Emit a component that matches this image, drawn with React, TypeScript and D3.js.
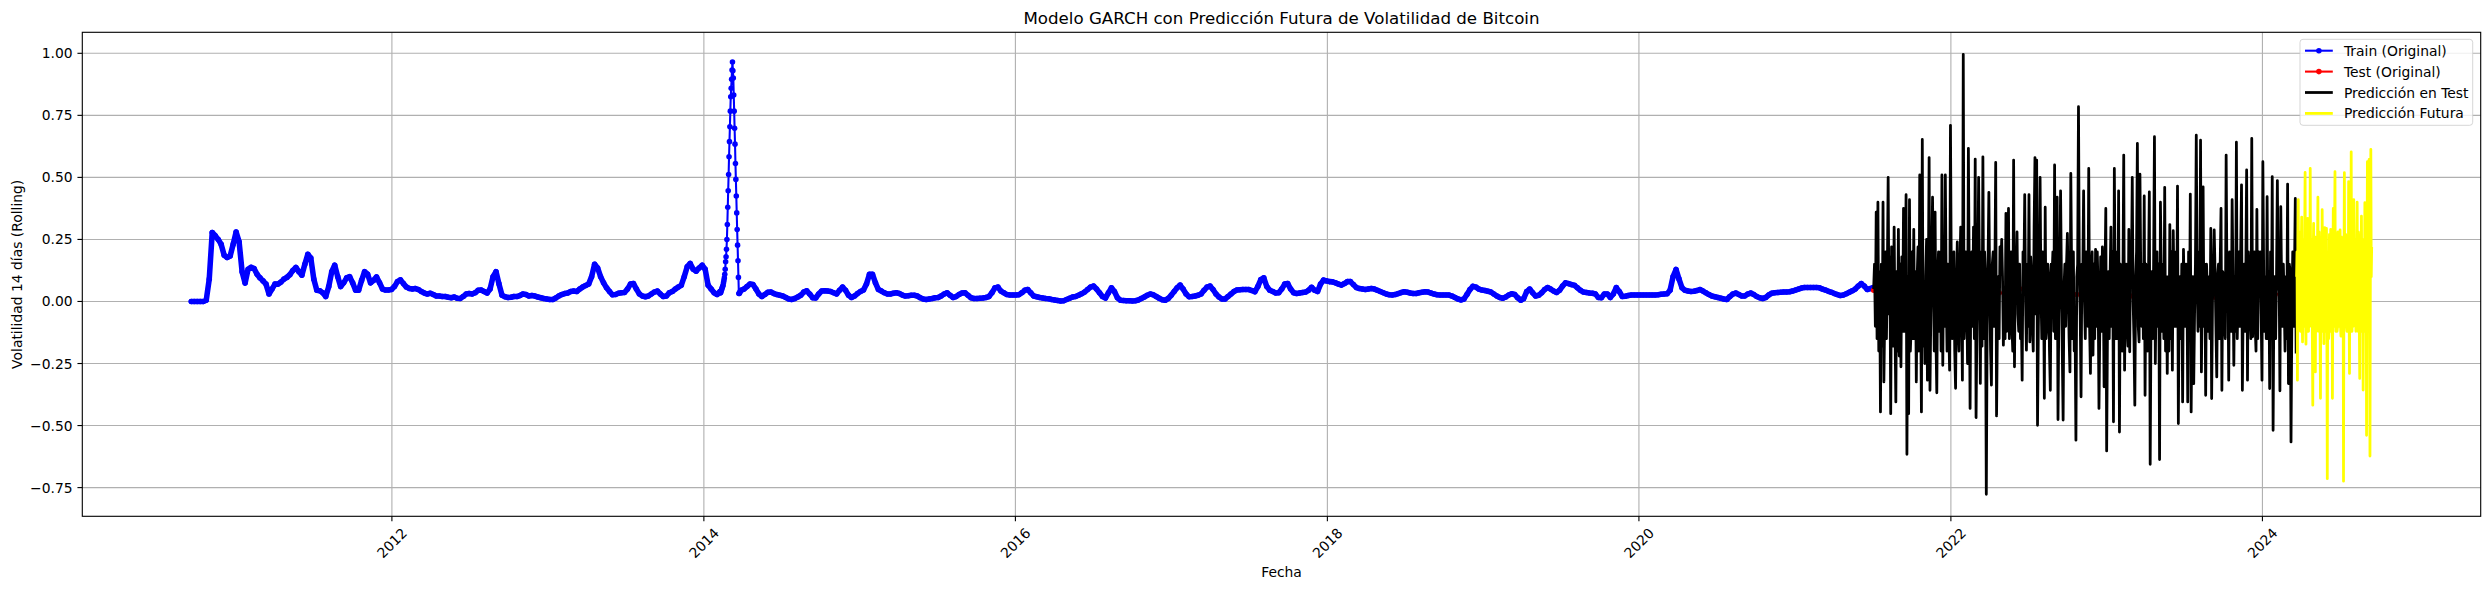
import React, { useEffect } from 'react';
import * as d3 from 'd3';

// ---------------- DATA ----------------
// Train (Original): weekly values, then a daily stretch around the 2014 spike, then weekly again
const trainAStart = '2010-09-18'; // step 7 days
const trainA = [
  0, 0, 0, 0, 0, 0.005, 0.09, 0.278, 0.265, 0.25,
  0.23, 0.186, 0.177, 0.183, 0.23, 0.28, 0.24, 0.12, 0.074, 0.13,
  0.138, 0.133, 0.11, 0.095, 0.083, 0.07, 0.03, 0.05, 0.07, 0.07,
  0.078, 0.09, 0.097, 0.108, 0.125, 0.137, 0.12, 0.106, 0.15, 0.19,
  0.175, 0.09, 0.045, 0.043, 0.035, 0.02, 0.06, 0.12, 0.146, 0.1,
  0.06, 0.075, 0.095, 0.1, 0.075, 0.045, 0.045, 0.085, 0.12, 0.11,
  0.075, 0.085, 0.099, 0.075, 0.05, 0.046, 0.046, 0.048, 0.06, 0.08,
  0.087, 0.072, 0.058, 0.052, 0.05, 0.052, 0.048, 0.04, 0.034, 0.03,
  0.033, 0.028, 0.022, 0.022, 0.02, 0.02, 0.017, 0.015, 0.018, 0.013,
  0.012, 0.02, 0.03, 0.032, 0.03, 0.035, 0.045, 0.046, 0.04, 0.034,
  0.05, 0.1, 0.12, 0.07, 0.025, 0.019, 0.016, 0.017, 0.02, 0.02,
  0.024, 0.03, 0.028, 0.022, 0.024, 0.022, 0.018, 0.015, 0.012, 0.01,
  0.008, 0.008, 0.014, 0.022, 0.028, 0.032, 0.034, 0.04, 0.042, 0.04,
  0.05, 0.058, 0.064, 0.07, 0.1, 0.15, 0.135, 0.1, 0.075, 0.055,
  0.04, 0.027, 0.028, 0.033, 0.035, 0.036, 0.05, 0.07, 0.072, 0.05,
  0.03, 0.022, 0.019, 0.022, 0.03, 0.038, 0.042, 0.03, 0.02, 0.022,
  0.035, 0.04, 0.05, 0.058, 0.065, 0.1, 0.14, 0.153, 0.13, 0.122,
  0.135, 0.146, 0.13, 0.065, 0.05, 0.035, 0.028, 0.04,
];
const trainSpikeStart = '2014-02-09'; // step 1 day
const trainSpike = [
  0.035, 0.04, 0.045, 0.05, 0.055, 0.06, 0.065, 0.075, 0.085, 0.095,
  0.11, 0.13, 0.16, 0.18, 0.21, 0.25, 0.31, 0.38, 0.446, 0.512,
  0.583, 0.644, 0.704, 0.767, 0.825, 0.859, 0.895, 0.933, 0.965, 0.93,
  0.9, 0.832, 0.767, 0.698, 0.634, 0.556, 0.492, 0.425, 0.357, 0.29,
  0.227, 0.164, 0.097, 0.032, 0.032, 0.035, 0.04, 0.042, 0.045,
];
const trainBStart = '2014-04-05'; // step 7 days
const trainB = [
  0.05, 0.06, 0.07, 0.068, 0.05, 0.03, 0.02, 0.028, 0.037, 0.038,
  0.032, 0.028, 0.025, 0.022, 0.016, 0.01, 0.008, 0.012, 0.018, 0.025,
  0.038, 0.043, 0.03, 0.015, 0.014, 0.03, 0.042, 0.043, 0.042, 0.04,
  0.035, 0.03, 0.045, 0.058, 0.045, 0.025, 0.016, 0.022, 0.032, 0.04,
  0.046, 0.07, 0.11, 0.11, 0.075, 0.048, 0.042, 0.035, 0.03, 0.03,
  0.033, 0.035, 0.032, 0.026, 0.022, 0.023, 0.025, 0.025, 0.022, 0.015,
  0.01, 0.008, 0.01, 0.012, 0.015, 0.016, 0.022, 0.03, 0.035, 0.025,
  0.016, 0.02, 0.028, 0.034, 0.035, 0.025, 0.015, 0.012, 0.012, 0.013,
  0.014, 0.016, 0.02, 0.035, 0.055, 0.058, 0.042, 0.035, 0.028, 0.026,
  0.026, 0.026, 0.027, 0.035, 0.045, 0.048, 0.035, 0.022, 0.019, 0.016,
  0.014, 0.012, 0.011, 0.008, 0.006, 0.004, 0.002, 0.003, 0.008, 0.013,
  0.018, 0.02, 0.025, 0.031, 0.038, 0.048, 0.058, 0.062, 0.05, 0.035,
  0.02, 0.014, 0.035, 0.055, 0.04, 0.015, 0.005, 0.004, 0.003, 0.003,
  0.002, 0.003, 0.006, 0.012, 0.018, 0.025, 0.03, 0.027, 0.02, 0.013,
  0.007, 0.005, 0.012, 0.025, 0.04, 0.055, 0.066, 0.05, 0.03, 0.019,
  0.02, 0.022, 0.025, 0.03, 0.045, 0.058, 0.062, 0.048, 0.03, 0.018,
  0.01, 0.01, 0.02, 0.03, 0.04, 0.046, 0.047, 0.048, 0.048, 0.048,
  0.044, 0.039, 0.06, 0.088, 0.095, 0.06, 0.045, 0.04, 0.034, 0.035,
  0.05, 0.07, 0.072, 0.05, 0.035, 0.032, 0.034, 0.036, 0.038, 0.045,
  0.057, 0.045, 0.04, 0.07, 0.086, 0.083, 0.08, 0.079, 0.075, 0.07,
  0.066, 0.072, 0.08, 0.08, 0.068, 0.056, 0.052, 0.05, 0.048, 0.05,
  0.052, 0.05, 0.045, 0.04, 0.035, 0.03, 0.027, 0.026, 0.028, 0.032,
  0.036, 0.039, 0.037, 0.034, 0.032, 0.032, 0.035, 0.037, 0.039, 0.038,
  0.034, 0.03, 0.027, 0.026, 0.026, 0.026, 0.026, 0.022, 0.016, 0.01,
  0.006, 0.01, 0.028, 0.048, 0.061, 0.058, 0.05, 0.046, 0.044, 0.041,
  0.038, 0.03, 0.022, 0.016, 0.013, 0.018, 0.026, 0.031, 0.028, 0.015,
  0.005, 0.012, 0.04, 0.05, 0.035, 0.022, 0.025, 0.035, 0.048, 0.056,
  0.05, 0.042, 0.036, 0.045, 0.062, 0.075, 0.072, 0.068, 0.065, 0.055,
  0.045, 0.038, 0.036, 0.034, 0.033, 0.03, 0.016, 0.015, 0.03, 0.03,
  0.016, 0.03, 0.056, 0.04, 0.02, 0.021, 0.024, 0.026, 0.026, 0.026,
  0.026, 0.026, 0.026, 0.026, 0.026, 0.026, 0.027, 0.029, 0.03, 0.031,
  0.045, 0.1, 0.129, 0.09, 0.055, 0.045, 0.042, 0.04, 0.041, 0.044,
  0.048, 0.042, 0.035, 0.028, 0.022, 0.019, 0.016, 0.013, 0.01, 0.008,
  0.02, 0.03, 0.034, 0.028, 0.022, 0.022, 0.03, 0.034, 0.028, 0.02,
  0.015, 0.012, 0.016, 0.026, 0.033, 0.035, 0.036, 0.037, 0.038, 0.038,
  0.039, 0.042, 0.046, 0.05, 0.054, 0.056, 0.056, 0.056, 0.056, 0.056,
  0.055, 0.05, 0.046, 0.041, 0.037, 0.032, 0.028, 0.024, 0.026, 0.031,
  0.037, 0.043, 0.05, 0.062, 0.072, 0.062, 0.048, 0.052, 0.056,
];

// Test (Original): every 14 days
const testStart = '2021-07-04';
const testValues = [
  0.045, 0.04, 0.035, 0.03, 0.038, 0.042, 0.035, 0.03, 0.028, 0.032,
  0.04, 0.045, 0.038, 0.035, 0.042, 0.05, 0.045, 0.038, 0.03, 0.032,
  0.04, 0.035, 0.03, 0.045, 0.055, 0.05, 0.042, 0.035, 0.03, 0.028,
  0.025, 0.022, 0.025, 0.03, 0.028, 0.022, 0.02, 0.018, 0.022, 0.025,
  0.028, 0.03, 0.025, 0.022, 0.02, 0.018, 0.02, 0.025, 0.03, 0.028,
  0.022, 0.02, 0.018, 0.016, 0.02, 0.025, 0.022, 0.018, 0.02, 0.025,
  0.03, 0.035, 0.03, 0.028, 0.025, 0.03, 0.035, 0.032, 0.028, 0.025,
  0.03,
];

// Predicción en Test: every 2 days
const predTestStart = '2021-07-04';
const predTest = [
  0.05, 0.15, -0.1, 0.36, -0.15, 0.4, -0.2, 0.12, -0.445, 0.15, -0.18, 0.4, -0.324, -0.05, 0.2,
  -0.15, 0.1, 0.5, -0.05, 0.18, -0.452, 0.22, 0.05, -0.18, 0.3, -0.1, -0.405, 0.12, -0.2, 0.29,
  -0.22, 0.15, -0.263, 0.18, -0.12, 0.375, -0.12, 0.08, 0.43, -0.616, 0.1, -0.452, 0.41, -0.2, -0.1,
  0.2, -0.15, 0.29, -0.15, 0.12, -0.324, 0.1, 0.22, -0.2, 0.51, 0.0, -0.445, 0.653, -0.18, 0.05,
  -0.25, 0.1, 0.25, -0.317, 0.05, 0.58, -0.358, -0.05, 0.15, 0.42, 0.1, -0.2, 0.36, -0.15, -0.368,
  0.1, 0.2, -0.12, 0.2, -0.2, 0.51, -0.257, 0.15, -0.1, 0.51, 0.05, -0.2, 0.15, -0.1, -0.277,
  0.71, 0.1, -0.15, 0.1, 0.2, -0.2, -0.35, 0.05, 0.24, -0.1, -0.2, 0.12, 0.3, 0.0, -0.317,
  0.996, -0.15, -0.05, 0.2, 0.05, -0.25, 0.617, 0.1, -0.431, 0.15, 0.2, -0.1, 0.3, -0.15, 0.574,
  -0.468, -0.1, 0.1, 0.5, 0.1, -0.33, 0.2, -0.18, 0.583, -0.15, 0.2, 0.1, -0.777, -0.1, 0.15,
  0.44, 0.05, -0.2, -0.337, 0.15, 0.2, -0.1, 0.1, 0.56, -0.461, -0.1, 0.1, -0.15, 0.22, 0.12,
  0.25, 0.1, -0.176, 0.05, -0.15, 0.355, -0.12, 0.05, 0.375, -0.15, 0.1, 0.2, -0.1, -0.2, 0.57,
  -0.263, 0.15, 0.1, 0.28, -0.05, -0.12, 0.15, -0.15, -0.05, -0.317, 0.2, 0.1, 0.43, 0.0, -0.196,
  0.15, -0.1, 0.43, -0.163, 0.18, 0.1, -0.1, -0.2, 0.3, 0.58, -0.05, 0.57, -0.499, -0.1, 0.12,
  0.5, 0.05, -0.15, 0.2, 0.1, -0.39, 0.38, -0.15, -0.1, 0.15, 0.1, -0.2, -0.358, 0.15, 0.1,
  0.2, -0.12, 0.55, -0.15, 0.1, 0.42, -0.476, -0.05, 0.1, 0.446, 0.1, -0.2, -0.478, 0.05, 0.15,
  -0.1, 0.15, 0.274, 0.05, -0.15, -0.284, 0.516, 0.1, -0.15, 0.2, -0.2, -0.1, -0.559, 0.1, 0.15,
  0.785, 0.1, -0.05, -0.384, 0.15, 0.1, 0.446, 0.0, -0.15, 0.2, 0.15, -0.1, 0.536, -0.1, -0.29,
  0.12, 0.2, -0.216, 0.15, -0.15, 0.21, -0.1, 0.2, 0.05, -0.431, -0.1, 0.18, -0.12, 0.22, 0.1,
  -0.344, 0.1, 0.375, -0.602, -0.1, 0.12, -0.15, 0.1, 0.3, -0.1, 0.2, -0.485, 0.536, 0.05, -0.15,
  0.2, -0.15, 0.446, -0.526, 0.15, 0.1, -0.2, 0.05, 0.59, -0.277, 0.1, 0.15, -0.1, -0.18, 0.29,
  -0.203, 0.2, 0.1, 0.5, 0.0, -0.15, -0.418, 0.1, 0.2, 0.637, -0.1, -0.163, 0.513, 0.1, -0.1,
  0.15, -0.15, 0.425, -0.378, 0.15, 0.1, -0.2, 0.1, 0.442, -0.656, -0.05, 0.12, -0.15, 0.15, 0.664,
  -0.25, 0.05, 0.2, -0.1, 0.15, -0.637, 0.4, 0.1, -0.12, 0.15, -0.15, 0.46, -0.2, 0.1, -0.29,
  0.1, -0.2, 0.31, -0.15, 0.2, -0.277, 0.285, 0.05, -0.1, 0.2, -0.1, 0.465, -0.492, 0.05, 0.1,
  -0.15, 0.15, -0.405, 0.21, 0.0, -0.1, 0.15, 0.1, -0.405, 0.2, -0.15, 0.433, -0.445, -0.05, 0.1,
  -0.331, -0.05, 0.15, 0.67, 0.1, -0.12, 0.2, -0.1, 0.65, -0.284, 0.05, 0.462, -0.1, 0.15, -0.378,
  0.15, 0.05, -0.12, 0.1, -0.15, 0.294, -0.391, 0.0, 0.12, 0.288, 0.12, -0.1, -0.304, 0.1, 0.15,
  -0.15, 0.15, 0.375, -0.358, 0.12, 0.1, -0.1, -0.15, 0.59, 0.05, 0.15, -0.317, 0.2, -0.05, -0.12,
  0.41, 0.1, -0.257, 0.1, -0.12, 0.642, -0.15, 0.05, 0.2, -0.1, 0.2, 0.47, -0.358, 0.0, 0.15,
  -0.12, 0.1, 0.53, -0.317, 0.2, 0.1, -0.05, -0.15, 0.657, -0.142, 0.1, 0.2, -0.1, -0.2, 0.371,
  -0.15, 0.2, 0.12, 0.2, -0.05, -0.317, 0.563, 0.1, -0.12, 0.1, -0.15, 0.422, -0.15, 0.12, -0.351,
  0.2, -0.1, 0.503, -0.519, 0.05, 0.1, -0.15, 0.1, 0.487, 0.05, 0.15, -0.36, 0.382, 0.05, -0.1,
  0.15, 0.0, -0.2, 0.1, -0.15, 0.473, -0.331, 0.15, 0.12, -0.566, -0.05, 0.2, -0.1, 0.1, 0.415,
  -0.21,
];

// Predicción Futura: daily
const futureStart = '2024-03-21';
const predFuture = [
  0.1, 0.2, -0.317, 0.25, 0.41, -0.1, -0.05, 0.28, 0.2, -0.12, -0.1, 0.22, 0.34, -0.05, -0.163, 0.18, 0.25, -0.1, -0.08, 0.26,
  0.52, -0.08, -0.172, 0.24, 0.15, -0.12, 0.335, 0.0, -0.12, 0.27, 0.2, -0.1, 0.536, 0.1, -0.05, 0.25, 0.22, -0.15, -0.418, 0.2,
  0.315, -0.12, 0.0, 0.26, -0.284, 0.1, 0.25, -0.12, -0.1, 0.22, 0.42, -0.05, -0.12, 0.28, 0.2, -0.1, -0.39, 0.24, 0.18, -0.12,
  0.37, 0.05, -0.08, 0.25, -0.17, 0.1, 0.298, -0.12, -0.1, 0.24, 0.294, -0.1, -0.714, 0.1, 0.2, -0.15, -0.12, 0.27, 0.15, -0.1,
  0.29, -0.12, -0.05, 0.25, -0.39, 0.05, 0.375, -0.08, -0.1, 0.26, 0.523, -0.05, -0.12, 0.24, 0.22, -0.12, -0.1, 0.28, 0.25, -0.1,
  -0.08, 0.22, 0.288, -0.1, -0.14, 0.26, 0.2, -0.12, 0.05, 0.2, -0.724, 0.1, 0.519, -0.05, -0.1, 0.27, 0.25, -0.1, -0.12, 0.24,
  0.2, -0.1, 0.483, 0.0, -0.29, 0.25, 0.15, -0.12, 0.603, 0.05, -0.12, 0.27, 0.22, -0.1, 0.41, -0.05, -0.08, 0.25, 0.2, -0.12,
  -0.1, 0.26, 0.4, -0.08, -0.12, 0.28, 0.25, -0.1, -0.31, 0.2, 0.15, -0.12, 0.344, 0.05, -0.1, 0.25, -0.357, 0.1, 0.2, -0.1,
  0.398, -0.05, -0.12, 0.25, -0.539, 0.1, 0.563, -0.1, -0.1, 0.28, 0.573, 0.0, -0.623, 0.2, 0.613, 0.1, 0.22,
];

const yTicks = [-0.75, -0.5, -0.25, 0, 0.25, 0.5, 0.75, 1.0];
const xTickYears = [2012, 2014, 2016, 2018, 2020, 2022, 2024];
const legendLabels = ['Train (Original)', 'Test (Original)', 'Predicción en Test', 'Predicción Futura'];
const titleText = 'Modelo GARCH con Predicción Futura de Volatilidad de Bitcoin';
const xLabelText = 'Fecha';
const yLabelText = 'Volatilidad 14 días (Rolling)';

// ---------------- LAYOUT ----------------
const W = 2490;
const H = 590;
const PL = 82.3;
const PR = 2480.7;
const PT = 32.3;
const PB = 516.3;
const FONT = '"DejaVu Sans", sans-serif';
const FS = 13.89;

type Pt = { date: Date; value: number };
const parseDay = d3.timeParse('%Y-%m-%d');
function toSeries(start: string, step: number, values: number[]): Pt[] {
  const s = parseDay(start) as Date;
  return values.map((v, i) => ({ date: d3.timeDay.offset(s, i * step), value: v }));
}

export default function App() {
  useEffect(() => {
    document.body.style.margin = '0';
  }, []);

  const trainAPts = toSeries(trainAStart, 7, trainA);
  const spikePts = toSeries(trainSpikeStart, 1, trainSpike);
  const trainBPts = toSeries(trainBStart, 7, trainB);
  const trainPts = [...trainAPts, ...spikePts, ...trainBPts];
  const testPts = toSeries(testStart, 14, testValues);
  const predTestPts = toSeries(predTestStart, 2, predTest);
  const futurePts = toSeries(futureStart, 1, predFuture);

  const all = [...trainPts, ...testPts, ...predTestPts, ...futurePts];
  const [dMin, dMax] = d3.extent(all, (d) => +d.date) as [number, number];
  const dSpan = dMax - dMin;
  const x = d3
    .scaleTime()
    .domain([new Date(dMin - 0.05 * dSpan), new Date(dMax + 0.05 * dSpan)])
    .range([PL, PR]);
  const [vMin, vMax] = d3.extent(all, (d) => d.value) as [number, number];
  const vSpan = vMax - vMin;
  const y = d3
    .scaleLinear()
    .domain([vMin - 0.05 * vSpan, vMax + 0.05 * vSpan])
    .range([PB, PT]);

  const line = d3
    .line<Pt>()
    .x((d) => x(d.date))
    .y((d) => y(d.value));

  const thickA = line([...trainAPts, spikePts[0]]) || '';
  const thickB = line([spikePts[spikePts.length - 1], ...trainBPts]) || '';

  const dotR = 2.78;
  const tickLen = 4.86;
  const fmtY = (v: number) => v.toFixed(2).replace('-', '\u2212');

  const legX = 2300;
  const legY = 39.3;
  const legW = 172.7;
  const legH = 86;
  const rowY = (i: number) => 50.7 + 20.9 * i;
  const hx0 = 2305;
  const hx1 = 2332.8;
  const legendStyles = [
    { color: 'blue', width: 2.08, marker: true },
    { color: 'red', width: 2.08, marker: true },
    { color: 'black', width: 2.78, marker: false },
    { color: 'yellow', width: 2.78, marker: false },
  ];

  return (
    <div style={{ position: 'absolute', left: 0, top: 0 }}>
      <svg width={W} height={H} style={{ display: 'block', background: '#fff' }} fontFamily={FONT}>
        <rect x={0} y={0} width={W} height={H} fill="#fff" />
        {/* grid */}
        <g stroke="#b0b0b0" strokeWidth={1.11}>
          {xTickYears.map((yr) => {
            const tx = x(new Date(yr, 0, 1));
            return <line key={'gx' + yr} x1={tx} x2={tx} y1={PT} y2={PB} />;
          })}
          {yTicks.map((v) => (
            <line key={'gy' + v} x1={PL} x2={PR} y1={y(v)} y2={y(v)} />
          ))}
        </g>
        <defs>
          <clipPath id="plotclip">
            <rect x={PL} y={PT} width={PR - PL} height={PB - PT} />
          </clipPath>
        </defs>
        <g clipPath="url(#plotclip)">
          {/* Train (Original) */}
          <path d={thickA} fill="none" stroke="blue" strokeWidth={5.55} strokeLinejoin="round" strokeLinecap="round" />
          <path d={thickB} fill="none" stroke="blue" strokeWidth={5.55} strokeLinejoin="round" strokeLinecap="round" />
          <path d={line(trainPts) || ''} fill="none" stroke="blue" strokeWidth={2.08} strokeLinejoin="round" />
          {trainPts.map((d, i) => (
            <circle key={'t' + i} cx={x(d.date)} cy={y(d.value)} r={dotR} fill="blue" />
          ))}
          {/* Test (Original) */}
          <path d={line(testPts) || ''} fill="none" stroke="red" strokeWidth={2.08} strokeLinejoin="round" />
          {testPts.map((d, i) => (
            <circle key={'r' + i} cx={x(d.date)} cy={y(d.value)} r={dotR} fill="red" />
          ))}
          {/* Predicción en Test */}
          <path d={line(predTestPts) || ''} fill="none" stroke="black" strokeWidth={2.78} strokeLinejoin="round" />
          {/* Predicción Futura */}
          <path d={line(futurePts) || ''} fill="none" stroke="yellow" strokeWidth={2.78} strokeLinejoin="round" />
        </g>
        {/* frame */}
        <rect x={PL} y={PT} width={PR - PL} height={PB - PT} fill="none" stroke="#000" strokeWidth={1.11} />
        {/* y ticks */}
        {yTicks.map((v) => (
          <g key={'yt' + v}>
            <line x1={PL - tickLen} x2={PL} y1={y(v)} y2={y(v)} stroke="#000" strokeWidth={1.11} />
            <text x={PL - tickLen - 4.86} y={y(v)} textAnchor="end" dominantBaseline="central" fontSize={FS} fill="#000">
              {fmtY(v)}
            </text>
          </g>
        ))}
        {/* x ticks */}
        {xTickYears.map((yr) => {
          const tx = x(new Date(yr, 0, 1));
          return (
            <g key={'xt' + yr}>
              <line x1={tx} x2={tx} y1={PB} y2={PB + tickLen} stroke="#000" strokeWidth={1.11} />
              <text
                transform={`translate(${tx},543) rotate(-45)`}
                textAnchor="middle"
                dominantBaseline="central"
                fontSize={FS}
                fill="#000"
              >
                {String(yr)}
              </text>
            </g>
          );
        })}
        {/* labels */}
        <text x={(PL + PR) / 2} y={577} textAnchor="middle" fontSize={FS} fill="#000">
          {xLabelText}
        </text>
        <text
          transform={`translate(17,${(PT + PB) / 2}) rotate(-90)`}
          textAnchor="middle"
          dominantBaseline="central"
          fontSize={FS}
          fill="#000"
        >
          {yLabelText}
        </text>
        <text x={(PL + PR) / 2} y={24} textAnchor="middle" fontSize={16.67} fill="#000">
          {titleText}
        </text>
        {/* legend */}
        <rect
          x={legX}
          y={legY}
          width={legW}
          height={legH}
          rx={3}
          ry={3}
          fill="#fff"
          fillOpacity={0.8}
          stroke="#cccccc"
          strokeOpacity={0.8}
          strokeWidth={1}
        />
        {legendLabels.map((lab, i) => {
          const st = legendStyles[i];
          const ry = rowY(i);
          return (
            <g key={'lg' + i}>
              <line x1={hx0} x2={hx1} y1={ry} y2={ry} stroke={st.color} strokeWidth={st.width} />
              {st.marker && <circle cx={(hx0 + hx1) / 2} cy={ry} r={dotR} fill={st.color} />}
              <text x={2343.9} y={ry} dominantBaseline="central" fontSize={FS} fill="#000">
                {lab}
              </text>
            </g>
          );
        })}
      </svg>
    </div>
  );
}
